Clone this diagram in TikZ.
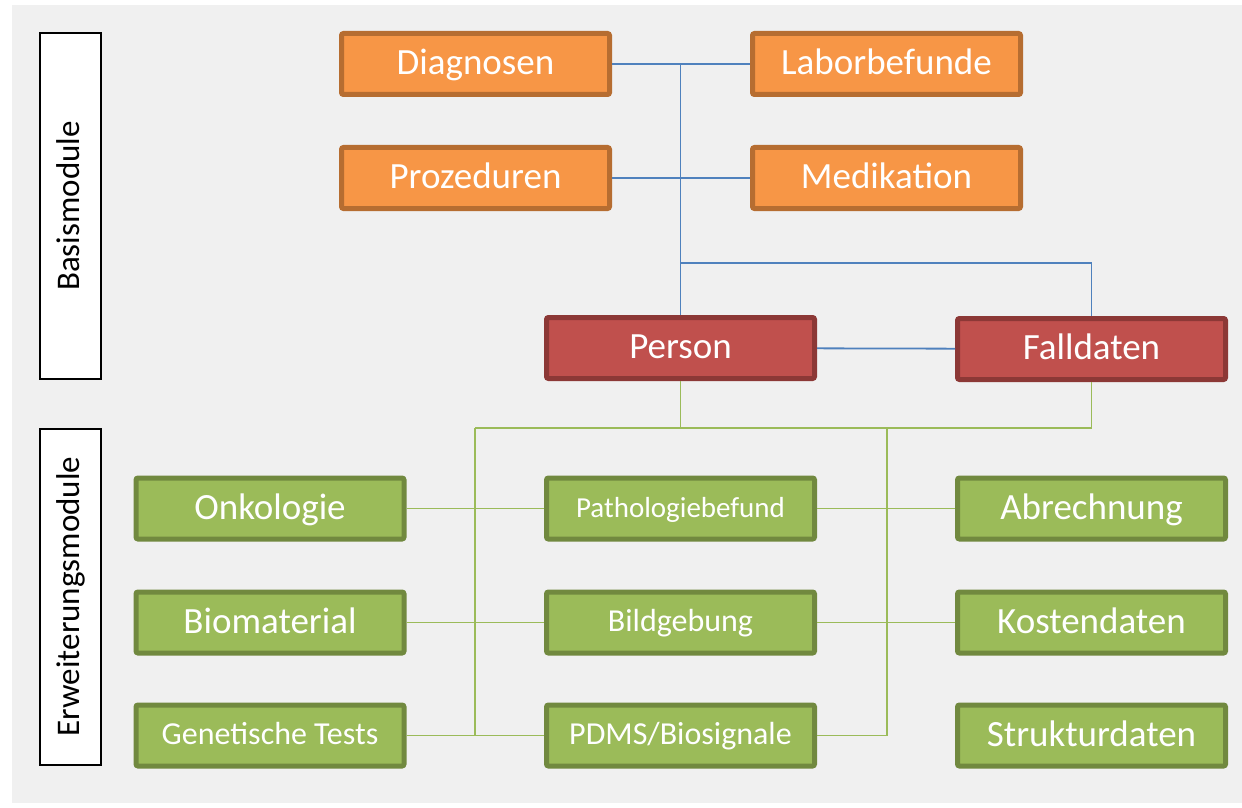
\documentclass[tikz,border=0pt]{standalone}
\usepackage{fontspec}
\setmainfont{Carlito}
\usepackage{tikz}
\usetikzlibrary{positioning}

\definecolor{bggray}{HTML}{F0F0F0}
\definecolor{orfill}{HTML}{F79646}
\definecolor{ordraw}{HTML}{B66D31}
\definecolor{rdfill}{HTML}{C0504D}
\definecolor{rddraw}{HTML}{8C3836}
\definecolor{grfill}{HTML}{9BBB59}
\definecolor{grdraw}{HTML}{71893F}
\definecolor{blline}{HTML}{4F81BD}

\begin{document}
\begin{tikzpicture}[x=0.5pt,y=-0.5pt,
    modbox/.style={rectangle,rounded corners=1pt,line width=2.5pt,minimum width=134pt,minimum height=30.5pt,
        text=white,text height=12pt,text depth=1.5pt,font=\fontsize{18.5}{20}\selectfont},
    orange/.style={modbox,fill=orfill,draw=ordraw},
    core/.style={modbox,fill=rdfill,draw=rddraw},
    ext/.style={modbox,fill=grfill,draw=grdraw},
    extsmall/.style={ext,text height=10.3pt,text depth=1.3pt,font=\fontsize{16}{18}\selectfont},
    sidebox/.style={rectangle,draw=black,fill=white,line width=1pt,minimum height=30.5pt,rotate=90,
        text height=10.8pt,text depth=1.5pt,font=\fontsize{16.5}{18}\selectfont},
    bline/.style={blline,line width=0.9pt},
    gline/.style={grfill,line width=0.9pt}]

    \useasboundingbox (0,0) rectangle (1242,808);
    \fill[bggray] (12,5) rectangle (1242,803);

    \node[sidebox,minimum width=173pt]    (basis) at (70.5, 206)     {Basismodule};
    \node[sidebox,minimum width=168pt]    (erw)   at (70.5, 596.5)   {Erweiterungsmodule};

    \node[orange]         (diag)   at (475.5, 64)     {Diagnosen};
    \node[orange]         (labor)  at (886.5, 64)     {Laborbefunde};
    \node[orange]         (proz)   at (475.5, 178)    {Prozeduren};
    \node[orange]         (medi)   at (886.5, 178)    {Medikation};

    \node[core]           (person) at (680.5, 348)    {Person};
    \node[core]           (fall)   at (1091.5, 349)   {Falldaten};

    \node[ext]            (onko)   at (270, 508.5)    {Onkologie};
    \node[extsmall,font=\fontsize{14.5}{17}\selectfont]
                          (patho)  at (680.5, 508.5)  {Pathologiebefund};
    \node[ext]            (abr)    at (1091.5, 508.5) {Abrechnung};
    \node[ext]            (bio)    at (270, 622.5)    {Biomaterial};
    \node[extsmall]       (bild)   at (680.5, 622.5)  {Bildgebung};
    \node[ext]            (kost)   at (1091.5, 622.5) {Kostendaten};
    \node[extsmall]       (gen)    at (270, 735.5)    {Genetische Tests};
    \node[extsmall]       (pdms)   at (680.5, 735.5)  {PDMS/Biosignale};
    \node[ext]            (struk)  at (1091.5, 735.5) {Strukturdaten};

    \coordinate (bjoin) at (680.5, 263);
    \coordinate (gleft) at (475, 428);
    \coordinate (gmid)  at (680.5, 428);
    \coordinate (gright) at (887, 428);

    \draw[bline] (diag) -- (labor);
    \draw[bline] (proz) -- (medi);
    \draw[bline] (person.north) -- (person.north |- diag.east);
    \draw[bline] (bjoin) -| (fall.north);
    \draw[bline] (person) -- (fall);

    \draw[gline] (person.south) -- (gmid);
    \draw[gline] (gleft) -| (fall.south);
    \draw[gline] (gleft) -- (gleft |- pdms.west);
    \draw[gline] (gright) -- (gright |- pdms.east);
    \draw[gline] (onko) -- (patho);
    \draw[gline] (patho) -- (abr);
    \draw[gline] (bio) -- (bild);
    \draw[gline] (bild) -- (kost);
    \draw[gline] (gen) -- (pdms);
    \draw[gline] (pdms.east) -- (gright |- pdms.east);
  \end{tikzpicture}
\end{document}
